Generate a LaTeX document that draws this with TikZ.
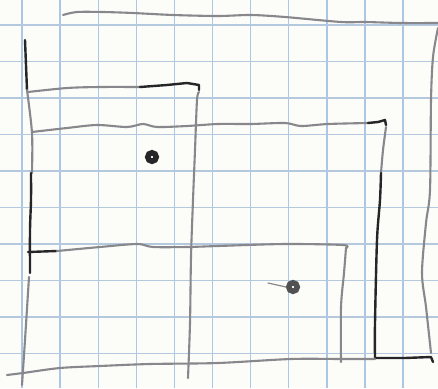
\documentclass[tikz,border=0pt]{standalone}
\usepackage{xcolor}
\definecolor{paperWhite}{RGB}{252,252,249}
\definecolor{gridBlue}{RGB}{172,199,230}
\definecolor{gridPale}{RGB}{180,200,222}
\definecolor{pencilGray}{RGB}{135,135,140}
\definecolor{inkBlack}{RGB}{38,38,40}
\tikzset{
  gridLine/.style={draw=gridBlue,line width=1.4},
  paleGridLine/.style={draw=gridPale,line width=1.4},
  pencilLine/.style={draw=pencilGray,line width=2.1,line cap=round,line join=round},
  inkLine/.style={draw=inkBlack,line width=2.4,line cap=round,line join=round},
  inkDot/.style={circle,draw=inkBlack,fill=white,line width=5.5,minimum size=8.5pt,inner sep=0pt}
}

\begin{document}
\begin{tikzpicture}[x=1pt,y=-1pt]
  \useasboundingbox[fill=paperWhite] (0,0) rectangle (438,388);
  \foreach \x in {0,...,11}
      \draw[gridLine] (22+38.1*\x,0) -- (22+38.1*\x,388);
  \foreach \y in {0,...,10}
      \draw[paleGridLine] (0,25+36.5*\y) -- (438,25+36.5*\y);
  \draw[pencilLine] plot[smooth] coordinates {(63,15) (77,12) (103,12) (133,13) (173,15) (218,16) (251,15) (285,17) (341,22) (365,22) (401,23) (438,23)};
  \draw[pencilLine] plot[smooth] coordinates {(438,28) (433,57) (431,100) (430,190) (426,223) (422,273) (426,307) (431,353)};
  \draw[inkLine] plot[smooth] coordinates {(25,40) (26,65) (27,90)};
  \draw[pencilLine] plot[smooth] coordinates {(27,90) (32,133) (32,173)};
  \draw[inkLine] plot[smooth] coordinates {(31,173) (31,200) (30,230) (30,273)};
  \draw[pencilLine] plot[smooth] coordinates {(29,277) (25,340) (22,385)};
  \draw[pencilLine] plot[smooth] coordinates {(28,92) (67,88) (100,87) (140,87)};
  \draw[inkLine] (140,87) -- (167,85) -- (187,83) -- (199,85) -- (199,90);
  \draw[pencilLine] plot[smooth] coordinates {(199,92) (197,100) (195,150) (193,200) (191,257) (190,323) (188,378)};
  \draw[pencilLine] plot[smooth] coordinates {(32,132) (67,128) (97,125) (127,127) (143,124) (157,127) (187,126) (218,124) (251,124) (285,123) (301,126) (328,124) (368,123)};
  \draw[inkLine] (368,123) -- (378,122) -- (385,120) -- (386,125);
  \draw[pencilLine] plot[smooth] coordinates {(386,127) (383,150) (381,173)};
  \draw[inkLine] plot[smooth] coordinates {(381,173) (380,200) (377,240) (375,323) (375,358)};
  \draw[inkLine] (375,358) -- (405,358) -- (431,357) -- (433,362);
  \draw[inkLine] (28,252) -- (57,251);
  \draw[pencilLine] plot[smooth] coordinates {(57,251) (100,247) (137,244) (153,247) (187,247) (218,246) (285,244) (343,245) (346,248)};
  \draw[pencilLine] plot[smooth] coordinates {(346,248) (344,273) (341,307) (341,362)};
  \draw[pencilLine] plot[smooth] coordinates {(7,375) (23,373) (60,368) (100,366) (150,364) (218,363) (291,359) (341,359) (375,359)};
  \node[inkDot] (dotA) at (152,157) {};
  \node[inkDot,draw=inkBlack!80] (dotB) at (293,287) {};
  \coordinate (tickStart) at (268,283);
  \draw[pencilLine,line width=1.2] (tickStart) .. controls (277,285) .. (dotB.west);
\end{tikzpicture}
\end{document}
